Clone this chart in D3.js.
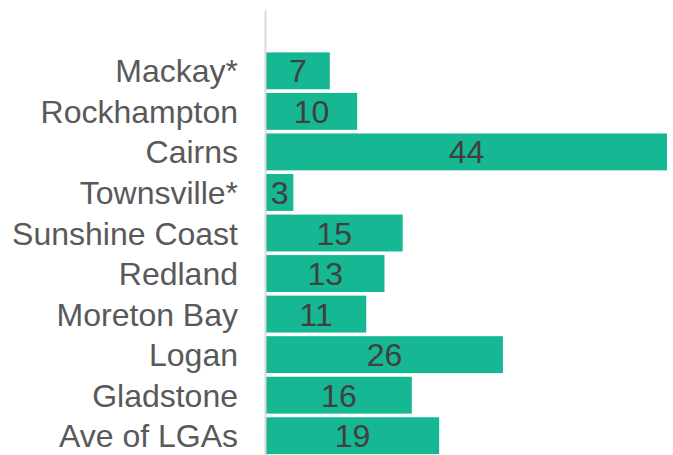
<!DOCTYPE html>
<html>
<head>
<meta charset="utf-8">
<script src="https://cdn.jsdelivr.net/npm/d3@7"></script>
<style>
  body { margin: 0; background: #fff; }
  svg { display: block; font-family: "Liberation Sans", Arial, sans-serif; }
</style>
</head>
<body>
<svg id="chart" width="673" height="455"></svg>
<script>
// Data
const categories = ["", "Mackay*", "Rockhampton", "Cairns", "Townsville*", "Sunshine Coast",
    "Redland", "Moreton Bay", "Logan", "Gladstone", "Ave of LGAs"];
const values = [null, 7, 10, 44, 3, 15, 13, 11, 26, 16, 19];

// Config
const margin = { top: 10, right: 6, bottom: -1, left: 266 };
const width = 673, height = 455;
const barColor = "#16b793";
const fontSize = 32;

const svg = d3.select("#chart");

const x = d3.scaleLinear()
    .domain([0, 44])
    .range([margin.left, width - margin.right]);

const y = d3.scaleBand()
    .domain(categories)
    .range([margin.top, height - margin.bottom])
    .paddingInner(0.09)
    .paddingOuter(0.045);

const rows = categories.map((c, i) => ({ name: c, value: values[i] }))
    .filter(d => d.value != null);

// Bars
svg.append("g").selectAll("rect")
    .data(rows)
    .join("rect")
    .attr("x", x(0))
    .attr("y", d => y(d.name))
    .attr("width", d => x(d.value) - x(0))
    .attr("height", y.bandwidth())
    .attr("fill", barColor);

// Value labels
svg.append("g").selectAll("text")
    .data(rows)
    .join("text")
    .attr("x", d => (x(0) + x(d.value)) / 2)
    .attr("y", d => y(d.name) + y.bandwidth() / 2)
    .attr("dy", "0.36em")
    .attr("text-anchor", "middle")
    .attr("font-size", fontSize)
    .attr("fill", "#404040")
    .text(d => d.value);

// Axis
const axis = svg.append("g")
    .attr("transform", `translate(${margin.left - 1},0)`)
    .call(d3.axisLeft(y).tickSize(0).tickPadding(27));
axis.attr("font-family", null);
axis.select(".domain").attr("stroke", "#d9d9d9").attr("stroke-width", 2);
axis.selectAll("text")
    .attr("font-size", fontSize)
    .attr("fill", "#595959")
    .attr("dy", "0.36em");
</script>
</body>
</html>
